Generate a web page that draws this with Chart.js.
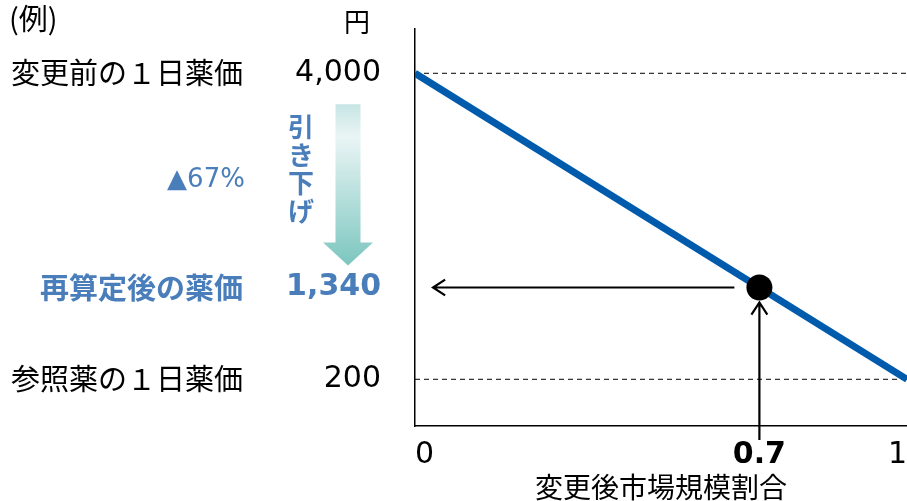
<!DOCTYPE html>
<html lang="ja">
<head>
<meta charset="utf-8">
<title>再算定後の薬価</title>
<script src="https://cdn.jsdelivr.net/npm/chart.js@4.4.1/dist/chart.umd.min.js"></script>
<style>
  html, body { margin: 0; padding: 0; background: #fff; }
  #wrap { position: relative; width: 907px; height: 501px; }
</style>
</head>
<body>
<div id="wrap"><canvas id="priceChart" width="907" height="501"></canvas></div>
<script>
/* global Chart */

// 変更後市場規模割合 (x) と１日薬価 (y, 円)
var lineShare = [0, 1];
var linePrice = [4000, 200];
var pointShare = [0.7];
var pointPrice = [1340];
var shareTicks = [0, 0.7, 1];
var shareTickLabels = ["0", "0.7", "1"];
var priceTicks = [200, 1340, 4000];
var priceTickLabels = ["200", "1,340", "4,000"];
var rowLabels = ["参照薬の１日薬価", "再算定後の薬価", "変更前の１日薬価"];
var refPrices = [4000, 200];

var BLUE_TEXT = "#4A7EBB";
var CJK = '"Noto Sans CJK JP", "Noto Sans", sans-serif';
var NUM = '"DejaVu Sans", Verdana, sans-serif';

function qs(id) {
  return document.getElementById(id);
}

function pts(xs, ys) {
  return xs.map(function (x, i) { return { x: x, y: ys[i] }; });
}

function arrow(ctx, x0, y0, x1, y1) {
  var a = Math.atan2(y1 - y0, x1 - x0), h = 14.5, w = 0.58;
  ctx.beginPath();
  ctx.moveTo(x0, y0);
  ctx.lineTo(x1, y1);
  ctx.moveTo(x1 - h * Math.cos(a - w), y1 - h * Math.sin(a - w));
  ctx.lineTo(x1, y1);
  ctx.lineTo(x1 - h * Math.cos(a + w), y1 - h * Math.sin(a + w));
  ctx.stroke();
}

function isAfter(v) { return v === pointPrice[0]; }

// 点からの矢印と左側の説明文
var notes = {
  id: "notes",
  afterDatasetsDraw: function (chart) {
    var ctx = chart.ctx, xs = chart.scales.x, ys = chart.scales.y, area = chart.chartArea;
    var px = xs.getPixelForValue(pointShare[0]);
    var py = ys.getPixelForValue(pointPrice[0]);
    ctx.save();
    ctx.strokeStyle = "#000";
    ctx.lineWidth = 2.2;
    arrow(ctx, px - 25, py, area.left + 18, py);
    arrow(ctx, px, area.bottom + 14, px, py + 15);
    ctx.restore();
  },
  afterDraw: function (chart) {
    var ctx = chart.ctx, ys = chart.scales.y;
    var yTop = ys.getPixelForValue(linePrice[0]);
    var yAfter = ys.getPixelForValue(pointPrice[0]);
    ctx.save();
    ctx.textBaseline = "middle";

    ctx.fillStyle = "#000";
    ctx.font = "29px " + CJK;
    ctx.textAlign = "left";
    ctx.fillText("(例)", 9, 19);
    ctx.font = "26px " + CJK;
    ctx.textAlign = "center";
    ctx.fillText("円", 357, 22);

    ctx.textAlign = "right";
    priceTicks.forEach(function (v, i) {
      var after = isAfter(v);
      ctx.font = (after ? "bold " : "") + "29px " + CJK;
      ctx.fillStyle = after ? BLUE_TEXT : "#000";
      ctx.fillText(rowLabels[i], 243, ys.getPixelForValue(v));
    });

    // 引き下げの矢印
    var cx = 348, top = yTop + 31, tip = yAfter - 22, base = tip - 23;
    var g = ctx.createLinearGradient(0, top, 0, tip);
    g.addColorStop(0, "#C6E5E4");
    g.addColorStop(0.2, "#EAF5F5");
    g.addColorStop(1, "#7CC6BF");
    ctx.fillStyle = g;
    ctx.beginPath();
    ctx.moveTo(cx - 12.5, top);
    ctx.lineTo(cx + 12.5, top);
    ctx.lineTo(cx + 12.5, base);
    ctx.lineTo(cx + 25, base);
    ctx.lineTo(cx, tip);
    ctx.lineTo(cx - 25, base);
    ctx.lineTo(cx - 12.5, base);
    ctx.closePath();
    ctx.fill();

    ctx.fillStyle = BLUE_TEXT;
    ctx.textAlign = "center";
    ctx.font = "bold 26px " + CJK;
    "引き下げ".split("").forEach(function (c, i) {
      ctx.fillText(c, 301, top + 23 + i * 28);
    });

    var cut = Math.round((1 - pointPrice[0] / linePrice[0]) * 100);
    ctx.font = "26px " + NUM;
    ctx.fillText("▲" + cut + "%", 206, (yTop + yAfter) / 2);
    ctx.restore();
  }
};

window.addEventListener("DOMContentLoaded", function () {
  var datasets = [
    {
      data: pts(pointShare, pointPrice),
      showLine: false,
      pointRadius: 13,
      pointBackgroundColor: "#000",
      pointBorderWidth: 0
    },
    {
      data: pts(lineShare, linePrice),
      showLine: true,
      borderColor: "#005BAC",
      borderWidth: 7,
      pointRadius: 0
    }
  ];
  refPrices.forEach(function (p) {
    datasets.push({
      data: pts(lineShare, [p, p]),
      showLine: true,
      borderColor: "#000",
      borderWidth: 1,
      borderDash: [5, 4],
      pointRadius: 0
    });
  });

  // eslint-disable-next-line no-new
  new Chart(qs("priceChart"), {
    type: "scatter",
    data: { datasets: datasets },
    plugins: [notes],
    options: {
      responsive: false,
      animation: false,
      events: [],
      layout: { autoPadding: false, padding: { top: 29, right: 0, bottom: 0, left: 0 } },
      plugins: { legend: { display: false }, tooltip: { enabled: false } },
      scales: {
        x: {
          type: "linear",
          min: 0,
          max: 1,
          grid: { display: false, drawTicks: false },
          border: { display: true, color: "#000", width: 1.5 },
          afterBuildTicks: function (s) {
            s.ticks = shareTicks.map(function (v) { return { value: v }; });
          },
          afterFit: function (s) {
            s.height = 75;
            s.paddingLeft = 0;
            s.paddingRight = 0;
          },
          ticks: {
            align: "inner",
            padding: 11,
            color: "#000",
            font: function (c) {
              return { family: NUM, size: 30, weight: c.tick && c.tick.value === pointShare[0] ? "bold" : "normal" };
            },
            callback: function (v, i) { return shareTickLabels[i]; }
          },
          title: {
            display: true,
            text: "変更後市場規模割合",
            color: "#000",
            font: { family: CJK, size: 28, lineHeight: 1 },
            padding: { top: 0, bottom: 0 }
          }
        },
        y: {
          type: "linear",
          min: -380,
          max: 4550,
          grid: { display: false, drawTicks: false },
          border: { display: true, color: "#000", width: 1.5 },
          afterBuildTicks: function (s) {
            s.ticks = priceTicks.map(function (v) { return { value: v }; });
          },
          afterFit: function (s) {
            s.width = 415;
            s.paddingTop = 0;
            s.paddingBottom = 0;
          },
          ticks: {
            padding: 34,
            color: function (c) { return c.tick && isAfter(c.tick.value) ? BLUE_TEXT : "#000"; },
            font: function (c) {
              return { family: NUM, size: 30, weight: c.tick && isAfter(c.tick.value) ? "bold" : "normal" };
            },
            callback: function (v, i) { return priceTickLabels[i]; }
          }
        }
      }
    }
  });
});
</script>
</body>
</html>
